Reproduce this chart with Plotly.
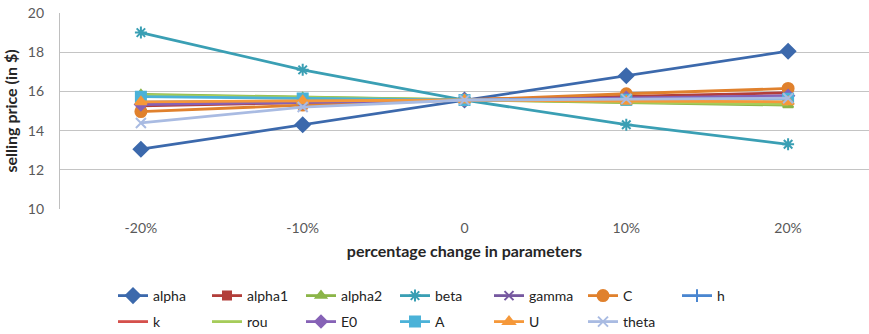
import plotly.graph_objects as go

# Percentage change applied to each parameter
changes = ["-20%", "-10%", "0", "10%", "20%"]

# Selling price (in $) for each parameter
alpha = [13.05, 14.3, 15.56, 16.8, 18.05]
alpha1 = [15.26, 15.41, 15.56, 15.74, 15.93]
alpha2 = [15.85, 15.7, 15.56, 15.43, 15.3]
beta = [19.0, 17.1, 15.56, 14.3, 13.3]
gamma = [15.38, 15.47, 15.56, 15.65, 15.74]
C = [14.97, 15.3, 15.56, 15.88, 16.15]
h = [15.45, 15.5, 15.56, 15.62, 15.68]
k = [15.41, 15.48, 15.56, 15.63, 15.7]
rou = [15.81, 15.68, 15.56, 15.45, 15.35]
E0 = [15.33, 15.45, 15.56, 15.67, 15.78]
A = [15.73, 15.64, 15.56, 15.58, 15.62]
U = [15.47, 15.52, 15.56, 15.5, 15.47]
theta = [14.39, 15.2, 15.56, 15.62, 15.65]

series = [
    ("alpha", alpha, "#3C69AC", "diamond", 11),
    ("alpha1", alpha1, "#B23E3A", "square", 8),
    ("alpha2", alpha2, "#8BB548", "triangle-up", 9),
    ("beta", beta, "#3A9FB4", "asterisk-open", 10),
    ("gamma", gamma, "#7658A0", "x-thin-open", 9),
    ("C", C, "#E0812D", "circle", 11),
    ("h", h, "#4A86D0", "line-ns-open", 9),
    ("k", k, "#D5504C", None, 0),
    ("rou", rou, "#A6CC5A", None, 0),
    ("E0", E0, "#8662B6", "diamond", 9),
    ("A", A, "#4BB2D8", "square", 10),
    ("U", U, "#F5983A", "triangle-up", 10),
    ("theta", theta, "#A9BBE2", "x-thin-open", 10),
]

font_family = "Lato, 'Open Sans', sans-serif"

fig = go.Figure()
for i, (name, vals, color, symbol, size) in enumerate(series):
    marker = dict(color=color, size=size, symbol=symbol or "circle",
                  line=dict(color=color, width=2))
    fig.add_trace(go.Scatter(
        x=changes, y=vals, name=name,
        mode="lines+markers" if symbol else "lines",
        line=dict(color=color, width=2.8),
        marker=marker,
        legend="legend" if i < 7 else "legend2",
    ))

legend_common = dict(
    orientation="h", xref="container", yref="container",
    xanchor="left", yanchor="middle",
    entrywidthmode="pixels", entrywidth=49,
    font=dict(family=font_family, size=14, color="#222222"),
    bgcolor="rgba(0,0,0,0)", borderwidth=0,
    itemclick=False, itemdoubleclick=False,
)

fig.update_layout(
    width=869, height=334,
    margin=dict(l=60, r=0, t=13, b=125),
    paper_bgcolor="white", plot_bgcolor="white",
    font=dict(family=font_family, color="#404040"),
    legend=dict(x=113 / 869, y=1 - 296 / 334, **legend_common),
    legend2=dict(x=113 / 869, y=1 - 322 / 334, **legend_common),
    xaxis=dict(
        type="category", range=[-0.5, 4.5],
        showgrid=False, showline=False, zeroline=False,
        ticks="", ticklabelstandoff=9,
        tickfont=dict(size=14, color="#595959"),
        title=dict(text="<b>percentage change in parameters</b>",
                   font=dict(size=16, color="#262626"), standoff=10),
    ),
    yaxis=dict(
        range=[10, 20], dtick=2, tick0=10,
        showgrid=True, gridcolor="#C4C4C4", gridwidth=1.3,
        showline=True, linecolor="#BFBFBF", linewidth=1.3,
        zeroline=False, ticks="", ticklabelstandoff=12,
        tickfont=dict(size=14, color="#595959"),
        title=dict(text="<b>selling price (in $)</b>",
                   font=dict(size=16, color="#262626"), standoff=6),
    ),
)

fig.write_html("out.html")
